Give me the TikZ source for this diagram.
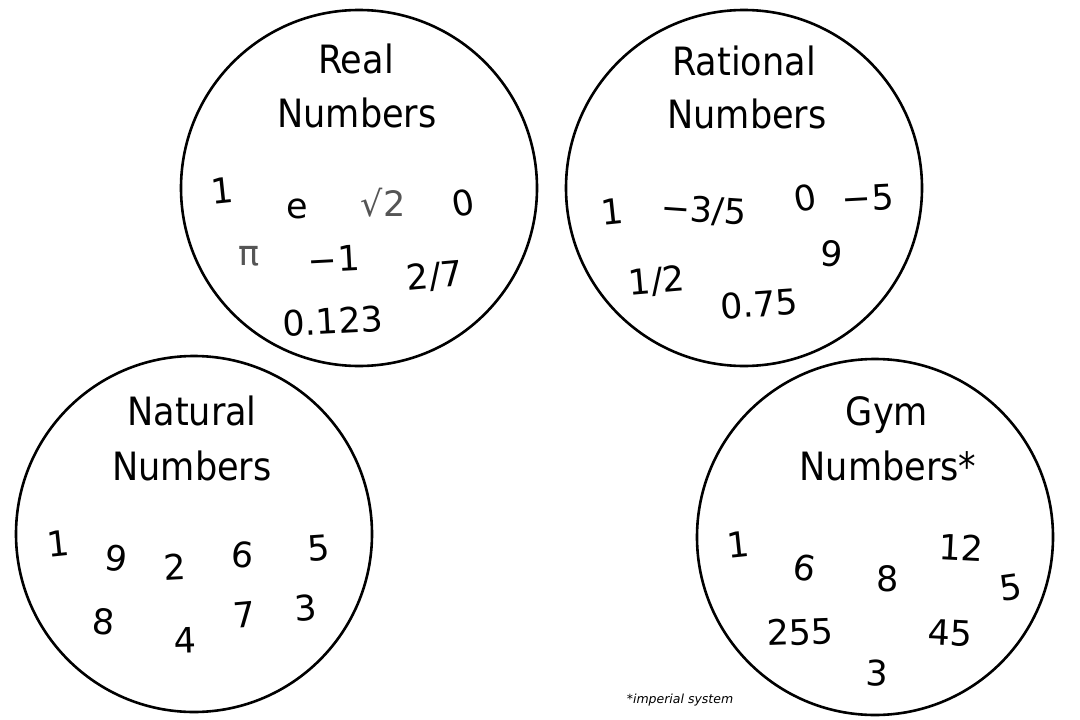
\documentclass[tikz,border=0pt]{standalone}
\usepackage{fontspec}
\setmainfont{DejaVu Sans}
\newfontfamily\titlefont{DejaVu Sans Condensed}
\definecolor{numgray}{HTML}{555555}
\begin{document}
\begin{tikzpicture}[x=1pt,y=-1pt,
  setcircle/.style={draw=black, line width=2.6pt, circle, minimum size=356pt, inner sep=0pt},
  ttl/.style={font=\titlefont\fontsize{39}{46}\selectfont, inner sep=0pt, anchor=base},
  num/.style={font=\fontsize{35}{42}\selectfont, inner sep=0pt},
  gnum/.style={num, text=numgray},
  note/.style={font=\itshape\fontsize{12.5}{15}\selectfont, inner sep=0pt}]
\useasboundingbox (0,0) rectangle (1080,720);
\fill[white] (0,0) rectangle (1080,720);
% circles
\node[setcircle] (real) at (359,188) {};
\node[setcircle] (rational) at (744,188) {};
\node[setcircle] (natural) at (194,534) {};
\node[setcircle] (gym) at (875,537) {};
% Real numbers
\node[ttl] (realA) at (356,73) {Real};
\node[ttl] (realB) at (357,127) {Numbers};
\node[num, rotate=6] (r1) at (222,191) {1};
\node[num] (re) at (297,209) {e};
\node[gnum] (rsq) at (383,203) {√2};
\node[num, rotate=10] (r0) at (463,203) {0};
\node[gnum] (rpi) at (249,256) {π};
\node[num, rotate=3] (rm1) at (334,259) {−1};
\node[num, rotate=5] (r27) at (435,277) {2/7};
\node[num, rotate=3] (r0123) at (333,321) {0.123};
% Rational numbers
\node[ttl] (ratA) at (744,75) {Rational};
\node[ttl] (ratB) at (747,128) {Numbers};
\node[num, rotate=6] (q1) at (612,212) {1};
\node[num, rotate=-4] (q35) at (704,211) {−3/5};
\node[num, rotate=10] (q0) at (805,198) {0};
\node[num, rotate=3] (qm5) at (868,198) {−5};
\node[num, rotate=-5] (q9) at (832,254) {9};
\node[num, rotate=5] (q12) at (657,282) {1/2};
\node[num, rotate=4] (q075) at (759,304) {0.75};
% Natural numbers
\node[ttl] (natA) at (192,425) {Natural};
\node[ttl] (natB) at (192,480) {Numbers};
\node[num, rotate=6] (n1) at (58,544) {1};
\node[num, rotate=-8] (n9) at (116,558) {9};
\node[num, rotate=3] (n2) at (175,567) {2};
\node[num, rotate=-5] (n6) at (243,555) {6};
\node[num, rotate=4] (n5) at (319,548) {5};
\node[num, rotate=-5] (n8) at (104,622) {8};
\node[num, rotate=2] (n4) at (185,640) {4};
\node[num, rotate=5] (n7) at (244,615) {7};
\node[num, rotate=4] (n3) at (306,608) {3};
% Gym numbers
\node[ttl] (gymA) at (887,425) {Gym};
\node[ttl] (gymB) at (888,480) {Numbers*};
\node[num, rotate=6] (g1) at (738,545) {1};
\node[num, rotate=-10] (g6) at (805,568) {6};
\node[num] (g8) at (888,579) {8};
\node[num, rotate=-3] (g12) at (961,548) {12};
\node[num, rotate=8] (g5) at (1011,588) {5};
\node[num, rotate=2] (g255) at (800,632) {255};
\node[num, rotate=-3] (g45) at (950,633) {45};
\node[num, rotate=-2] (g3) at (877,673) {3};
\node[note] (foot) at (680,700) {*imperial system};
\end{tikzpicture}
\end{document}
